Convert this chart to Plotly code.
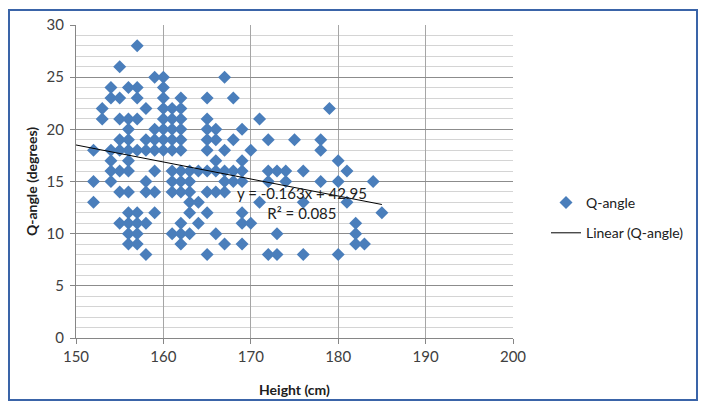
import plotly.graph_objects as go

# Data (Height in cm, Q-angle in degrees)
heights = (
    [152]*3 + [153]*2 + [154]*6 + [155]*8 + [156]*12 + [157]*9 + [158]*7 + [159]*7 +
    [160]*8 + [161]*9 + [162]*12 + [163]*6 + [164]*3 + [165]*9 + [166]*6 + [167]*6 +
    [168]*4 + [169]*7 + [170]*2 + [171]*2 + [172]*4 + [173]*3 + [174]*2 + [175]*1 +
    [176]*3 + [178]*3 + [179]*1 + [180]*3 + [181]*2 + [182]*3 + [183]*1 + [184]*1 + [185]*1
)
q_angles = (
    [18, 15, 13] +
    [22, 21] +
    [24, 23, 18, 17, 16, 15] +
    [26, 23, 21, 19, 18, 16, 14, 11] +
    [24, 21, 20, 19, 18, 17, 16, 14, 12, 11, 10, 9] +
    [28, 24, 23, 21, 18, 12, 11, 10, 9] +
    [22, 19, 18, 15, 14, 11, 8] +
    [25, 20, 19, 18, 16, 14, 12] +
    [25, 24, 23, 22, 21, 20, 19, 18] +
    [22, 21, 20, 19, 18, 16, 15, 14, 10] +
    [23, 22, 21, 20, 19, 18, 16, 15, 14, 11, 10, 9] +
    [16, 15, 14, 13, 12, 10] +
    [16, 13, 11] +
    [23, 21, 20, 19, 18, 16, 14, 12, 8] +
    [20, 19, 17, 16, 14, 10] +
    [25, 18, 16, 15, 14, 9] +
    [23, 19, 16, 15] +
    [20, 17, 16, 15, 12, 11, 9] +
    [18, 11] +
    [21, 13] +
    [19, 16, 15, 8] +
    [16, 10, 8] +
    [16, 15] +
    [19] +
    [16, 13, 8] +
    [19, 18, 15] +
    [22] +
    [17, 15, 8] +
    [16, 13] +
    [11, 10, 9] +
    [9] +
    [15] +
    [12]
)

# Trendline shown on the chart
trend_slope = -0.163
trend_intercept = 42.95
trend_r2 = 0.085
trend_x = [150, 185]
trend_y = [trend_slope * v + trend_intercept for v in trend_x]

x_ticks = [150, 160, 170, 180, 190, 200]
y_ticks = [0, 5, 10, 15, 20, 25, 30]

FONT = "Lato"

# The page body has an 8px margin, so the figure is drawn 8px smaller
OFF = 8
W, H = 708 - OFF, 407 - OFF
# plot-area edges in page pixels (reference), converted to figure pixels
L, R, T, B = 76 - OFF, 513 - OFF, 25 - OFF, 338 - OFF


def px2x(p):
    return (p - OFF - L) / (R - L)


def px2y(p):
    return (B - (p - OFF)) / (B - T)


fig = go.Figure()
fig.add_trace(go.Scatter(
    x=heights, y=q_angles, mode="markers", name="Q-angle",
    marker=dict(symbol="diamond", size=10, color="#4a7ebb"),
    legendgroup="a",
))
fig.add_trace(go.Scatter(
    x=trend_x, y=trend_y, mode="lines", name="Linear (Q-angle)",
    line=dict(color="#000000", width=1),
    legendgroup="b",
))

fig.add_annotation(
    x=(trend_x[0] + trend_x[1]) / 2 + 8.4, y=12.9, xref="x", yref="y",
    text=f"y = {trend_slope}x + {trend_intercept}<br>R² = {trend_r2}",
    showarrow=False, font=dict(family=FONT, size=15, color="#202020"),
    align="center",
)

# Chart-area border
fig.add_shape(type="rect", xref="paper", yref="paper",
              x0=px2x(9), x1=px2x(697), y0=px2y(400), y1=px2y(10),
              line=dict(color="#3a64a8", width=2), layer="below")

fig.update_layout(
    width=W, height=H,
    margin=dict(l=L, r=W - R, t=T, b=H - B),
    paper_bgcolor="white", plot_bgcolor="white",
    font=dict(family=FONT, color="#404040"),
    showlegend=True,
    legend=dict(
        x=px2x(546), y=px2y(187), xanchor="left", yanchor="top",
        font=dict(family=FONT, size=14, color="#202020"),
        tracegroupgap=9, traceorder="grouped",
        bgcolor="rgba(0,0,0,0)",
    ),
    xaxis=dict(
        range=[150, 200], tickvals=x_ticks, ticktext=[str(v) for v in x_ticks],
        showgrid=True, gridcolor="#a6a6a6", gridwidth=1,
        showline=True, linecolor="#868686", linewidth=1,
        ticks="outside", ticklen=5, tickcolor="#868686",
        tickfont=dict(family=FONT, size=15, color="#404040"),
        zeroline=False,
        title=dict(text="<b>Height (cm)</b>", font=dict(family=FONT, size=14, color="#202020"), standoff=21),
        automargin=False,
    ),
    yaxis=dict(
        range=[0, 30], tickvals=y_ticks, ticktext=[str(v) for v in y_ticks],
        showgrid=True, gridcolor="#8c8c8c", gridwidth=1,
        minor=dict(dtick=1, showgrid=True, gridcolor="#d4d4d4", gridwidth=1),
        showline=True, linecolor="#868686", linewidth=1,
        ticks="outside", ticklen=5, tickcolor="#868686",
        tickfont=dict(family=FONT, size=15, color="#404040"),
        ticklabelstandoff=3,
        zeroline=False,
        title=dict(text="<b>Q-angle (degrees)</b>", font=dict(family=FONT, size=14, color="#202020"), standoff=5),
        automargin=False,
    ),
)

fig.write_html("out.html")
